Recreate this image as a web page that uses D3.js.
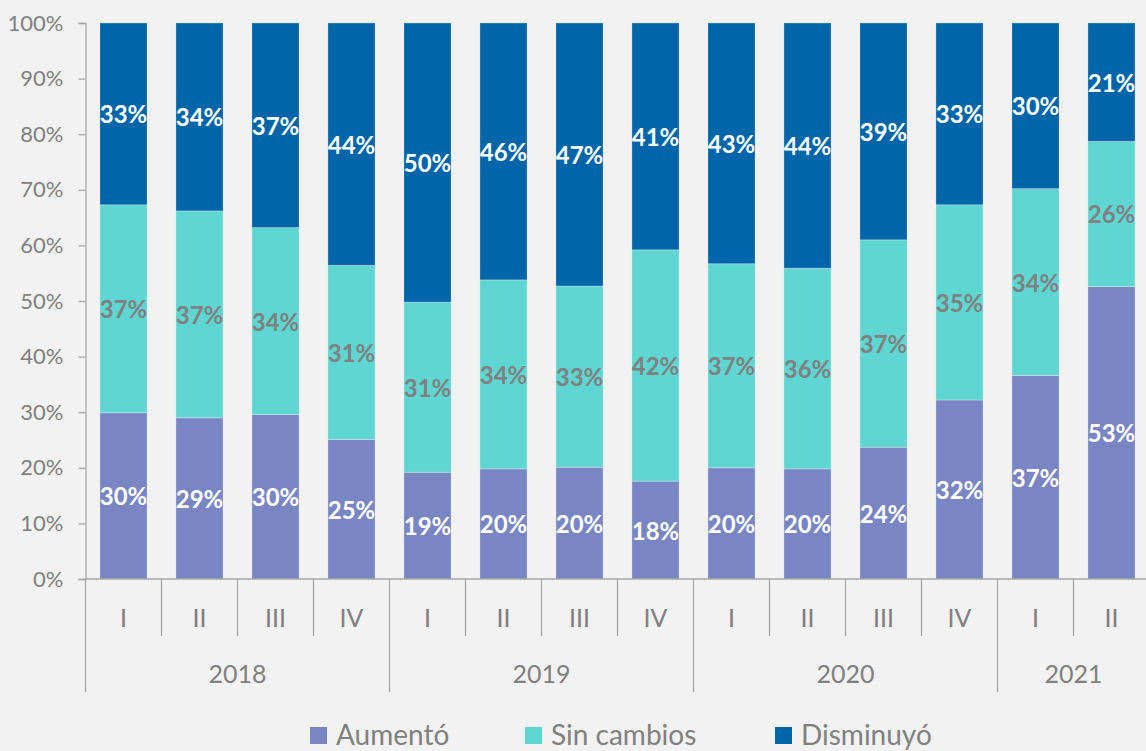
<!DOCTYPE html>
<html>
<head>
<meta charset="utf-8">
<script src="https://cdn.jsdelivr.net/npm/d3@7"></script>
<style>
  html, body { margin: 0; padding: 0; background: #f2f2f2; }
  svg { display: block; font-family: Lato, "Open Sans", sans-serif; }
</style>
</head>
<body>
<div id="chart"></div>
<script>
// quarters and years along the bottom
const quarters = ['I', 'II', 'III', 'IV', 'I', 'II', 'III', 'IV', 'I', 'II', 'III', 'IV', 'I', 'II'];
const years = [
  { year: '2018', from: 0, to: 4 },
  { year: '2019', from: 4, to: 8 },
  { year: '2020', from: 8, to: 12 },
  { year: '2021', from: 12, to: 14 }
];

// shares in percent
const aumento = [29.9, 29.0, 29.6, 25.1, 19.2, 19.8, 20.1, 17.6, 20.0, 19.8, 23.7, 32.2, 36.6, 52.6];
const sinCambios = [37.4, 37.2, 33.6, 31.3, 30.6, 34.0, 32.6, 41.6, 36.7, 36.1, 37.3, 35.1, 33.6, 26.1];
const disminuyo = [32.7, 33.8, 36.8, 43.6, 50.2, 46.2, 47.3, 40.8, 43.3, 44.1, 39.0, 32.7, 29.8, 21.3];

const seriesNames = ['Aumentó', 'Sin cambios', 'Disminuyó'];
const yTicks = [0, 10, 20, 30, 40, 50, 60, 70, 80, 90, 100];

const colors = { 'Aumentó': '#7a86c3', 'Sin cambios': '#5fd6d2', 'Disminuyó': '#0065a9' };
const labelColors = { 'Aumentó': '#ffffff', 'Sin cambios': '#808080', 'Disminuyó': '#ffffff' };

const W = 1146, H = 751;
const plotLeft = 85.5, plotTop = 23, plotBottom = 579;

const rows = quarters.map((q, i) => ({
  idx: i,
  'Aumentó': aumento[i],
  'Sin cambios': sinCambios[i],
  'Disminuyó': disminuyo[i]
}));

const svg = d3.select('#chart').append('svg')
  .attr('width', W)
  .attr('height', H);

svg.append('rect').attr('width', W).attr('height', H).attr('fill', '#f2f2f2');

const x = d3.scaleBand()
  .domain(d3.range(quarters.length))
  .range([plotLeft, plotLeft + 76 * quarters.length])
  .paddingInner(0.38)
  .paddingOuter(0.19);

const y = d3.scaleLinear().domain([0, 100]).range([plotBottom, plotTop]);

const stacked = d3.stack().keys(seriesNames)(rows);

// bars
const layers = svg.selectAll('.layer')
  .data(stacked)
  .enter()
  .append('g')
  .attr('class', 'layer');

layers.selectAll('rect')
  .data(d => d)
  .enter()
  .append('rect')
  .attr('fill', function () { return colors[d3.select(this.parentNode).datum().key]; })
  .attr('x', d => x(d.data.idx))
  .attr('y', d => y(d[1]))
  .attr('width', x.bandwidth())
  .attr('height', d => y(d[0]) - y(d[1]))
  .attr('stroke', 'rgba(255,255,255,0.35)')
  .attr('stroke-width', 0.8);

// y axis
const yAxis = svg.append('g')
  .attr('transform', `translate(${plotLeft},0)`)
  .call(d3.axisLeft(y).tickValues(yTicks).tickSize(7).tickFormat(d => d + '%'));
yAxis.select('.domain').attr('stroke', '#a6a6a6').attr('stroke-width', 1.3);
yAxis.selectAll('.tick line').attr('stroke', '#a6a6a6').attr('stroke-width', 1.3);
yAxis.selectAll('.tick text')
  .attr('x', -22)
  .attr('fill', '#808080')
  .style('font-size', '22px')
  .style('font-family', 'Lato, "Open Sans", sans-serif');

// x axis line
svg.append('line')
  .attr('x1', plotLeft).attr('x2', W)
  .attr('y1', plotBottom).attr('y2', plotBottom)
  .attr('stroke', '#a6a6a6').attr('stroke-width', 1.3);

// quarter separators
const yearStarts = years.map(d => d.from);
svg.selectAll('.qsep')
  .data(d3.range(quarters.length))
  .enter()
  .append('line')
  .attr('class', 'qsep')
  .attr('x1', i => x(i) - x.step() * x.paddingOuter())
  .attr('x2', i => x(i) - x.step() * x.paddingOuter())
  .attr('y1', plotBottom)
  .attr('y2', i => yearStarts.includes(i) ? 692 : 636)
  .attr('stroke', '#a6a6a6').attr('stroke-width', 1.3);

// quarter labels
svg.selectAll('.qlab')
  .data(quarters)
  .enter()
  .append('text')
  .attr('x', (d, i) => x(i) + x.bandwidth() / 2)
  .attr('y', 617)
  .attr('text-anchor', 'middle')
  .attr('dominant-baseline', 'central')
  .attr('fill', '#808080')
  .style('font-size', '25px')
  .text(d => d);

// year labels
svg.selectAll('.ylab')
  .data(years)
  .enter()
  .append('text')
  .attr('x', d => (x(d.from) + x(d.to - 1) + x.bandwidth()) / 2)
  .attr('y', 673)
  .attr('text-anchor', 'middle')
  .attr('dominant-baseline', 'central')
  .attr('fill', '#808080')
  .style('font-size', '25px')
  .text(d => d.year);

// value labels
layers.selectAll('.val')
  .data(d => d.map(v => ({ key: d.key, lo: v[0], hi: v[1], idx: v.data.idx })))
  .enter()
  .append('text')
  .attr('x', d => x(d.idx) + x.bandwidth() / 2)
  .attr('y', d => y((d.lo + d.hi) / 2))
  .attr('text-anchor', 'middle')
  .attr('dominant-baseline', 'central')
  .attr('fill', d => labelColors[d.key])
  .style('font-size', '24px')
  .style('font-weight', 'bold')
  .text(d => Math.round(d.hi - d.lo) + '%');

// legend
const legendX = [310, 525, 775];
const legend = svg.selectAll('.leg')
  .data(seriesNames)
  .enter()
  .append('g')
  .attr('transform', (d, i) => `translate(${legendX[i]},727)`);
legend.append('rect')
  .attr('width', 17).attr('height', 17)
  .attr('fill', d => colors[d]);
legend.append('text')
  .attr('x', 26).attr('y', 18)
  .attr('fill', '#808080')
  .style('font-size', '28px')
  .text(d => d);
</script>
</body>
</html>
